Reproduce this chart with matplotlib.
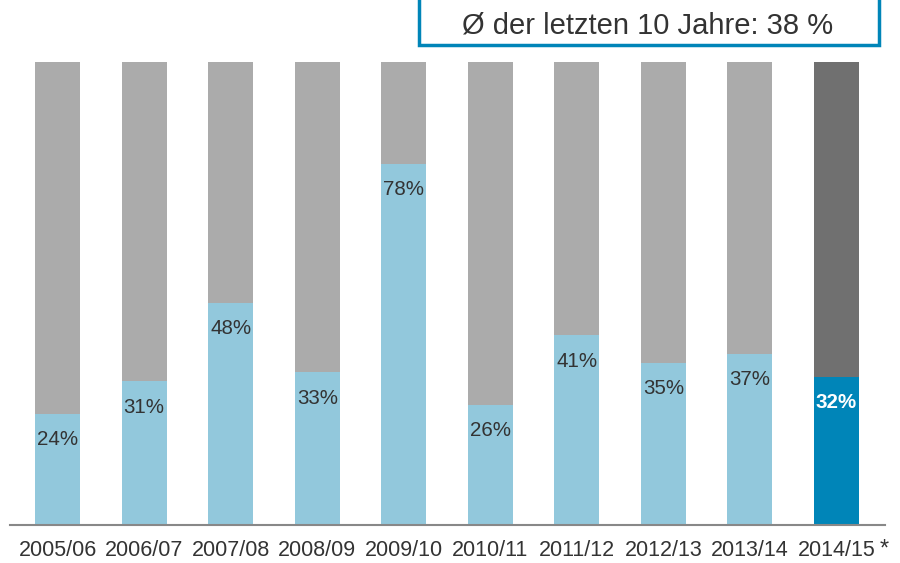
import matplotlib
matplotlib.use("Agg")
import matplotlib.pyplot as plt
from matplotlib.patches import Rectangle

plt.rcParams['font.family'] = ['Liberation Sans', 'DejaVu Sans']

seasons = ["2005/06", "2006/07", "2007/08", "2008/09", "2009/10",
           "2010/11", "2011/12", "2012/13", "2013/14", "2014/15"]
values = [24, 31, 48, 33, 78, 26, 41, 35, 37, 32]
total = 100
avg_text = "Ø der letzten 10 Jahre: 38 %"

W, H = 900, 563
fig = plt.figure(figsize=(W / 100, H / 100), dpi=100)
ax = fig.add_axes([10 / W, 1 - 525 / H, 875 / W, 463 / H])

x = list(range(len(values)))
base_colors = ["#92C8DC"] * (len(values) - 1) + ["#0085B8"]
rest_colors = ["#ABABAB"] * (len(values) - 1) + ["#707070"]
rest = [total - v for v in values]

ax.bar(x, values, width=0.52, color=base_colors, linewidth=0)
ax.bar(x, rest, bottom=values, width=0.52, color=rest_colors, linewidth=0)

for i, v in enumerate(values):
    last = i == len(values) - 1
    ax.text(i, v - 5.6, f"{v}%", ha="center", va="center",
            fontsize=14.8, color="white" if last else "#333333",
            fontweight="bold" if last else "normal")

ax.set_xlim(-0.549, 9.56)
ax.set_ylim(0, total)
ax.set_xticks(x)
ax.set_xticklabels(seasons, fontsize=15.5, color="#333333")
ax.tick_params(axis="x", length=0, pad=11)
ax.set_yticks([])
for s in ["top", "right", "left"]:
    ax.spines[s].set_visible(False)
ax.spines["bottom"].set_color("#888888")
ax.spines["bottom"].set_linewidth(1.5)

# asterisk after last label
fig.text(884 / W, 1 - 550 / H, "*", fontsize=17, color="#333333", ha="center", va="center")

# average box
box = Rectangle((419 / W, 1 - 45 / H), 460 / W, 60 / H, transform=fig.transFigure,
                facecolor="white", edgecolor="#0085B8", linewidth=2.5, clip_on=False)
fig.patches.append(box)
fig.text(648 / W, 1 - 25 / H, avg_text, fontsize=21, color="#333333",
         ha="center", va="center")

fig.savefig("out.png", dpi=100)
